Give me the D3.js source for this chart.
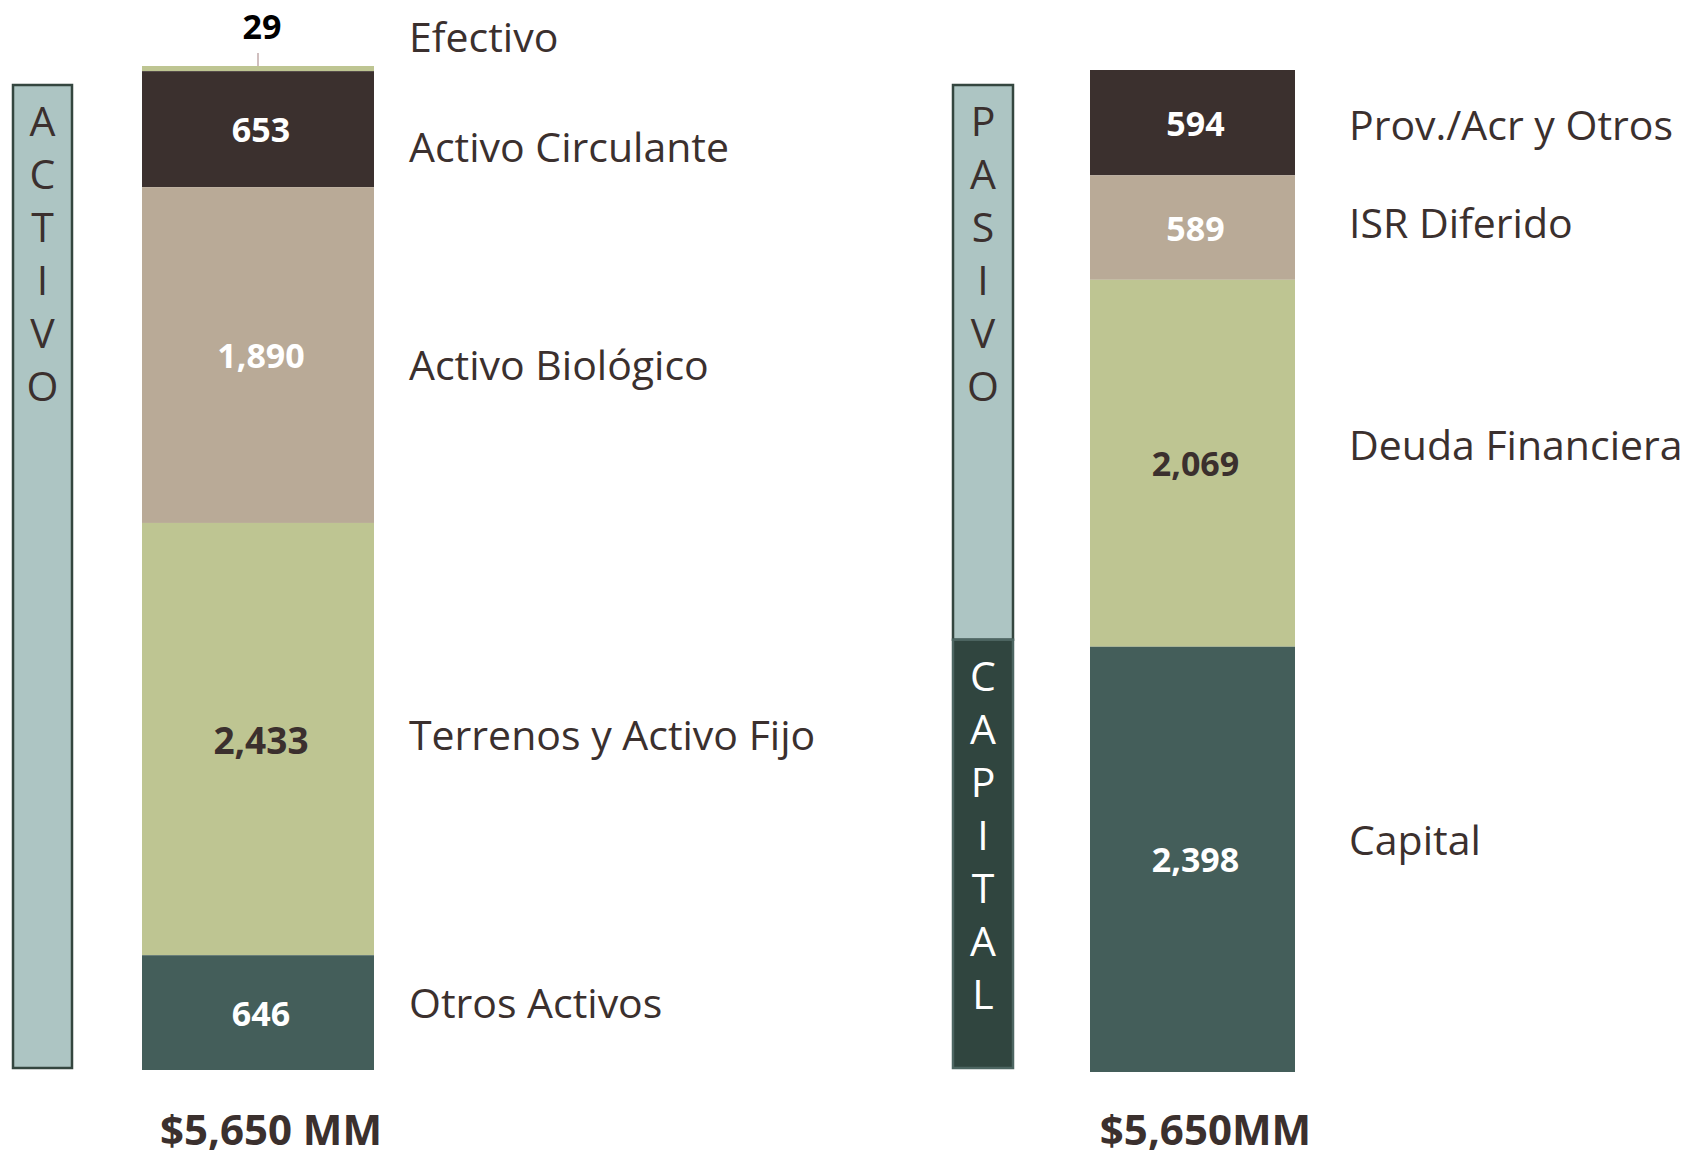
<!DOCTYPE html>
<html><head><meta charset="utf-8">
<script src="https://cdn.jsdelivr.net/npm/d3@7"></script>
<style>html,body{margin:0;padding:0;background:#fff;}svg{display:block;font-family:"Open Sans",sans-serif;}</style>
</head><body>
<svg id="chart" width="1696" height="1156"></svg>
<script>
// ---- data ----
const assetCategories = ["Efectivo", "Activo Circulante", "Activo Biológico", "Terrenos y Activo Fijo", "Otros Activos"];
const assetValues = [29, 653, 1890, 2433, 646];
const liabCategories = ["Prov./Acr y Otros", "ISR Diferido", "Deuda Financiera", "Capital"];
const liabValues = [594, 589, 2069, 2398];
const totalLabels = ["$5,650 MM", "$5,650MM"];
const sideWords = ["ACTIVO", "PASIVO", "CAPITAL"];

// ---- styles / layout ----
const assetColors = ["#bec592", "#3b302e", "#b9aa97", "#bec592", "#445e5a"];
const assetText = ["#000000", "#ffffff", "#ffffff", "#3b302e", "#ffffff"];
const assetValSize = [34, 34, 34, 37, 34];
const assetLabelDy = [0, 17, 9, -5, -11];
const liabColors = ["#3b302e", "#b9aa97", "#bec592", "#445e5a"];
const liabText = ["#ffffff", "#ffffff", "#3b302e", "#ffffff"];
const liabValSize = [34, 34, 34, 34];
const liabLabelDy = [1, -6, -19, -20];
const textDark = "#3b302e";

const svg = d3.select("#chart");
const fmt = d3.format(",");

function stack(vals) {
  let acc = 0;
  return vals.map(v => { const o = { y0: acc, y1: acc + v, v }; acc += v; return o; });
}

function drawBar(cfg) {
  const total = d3.sum(cfg.values);
  const y = d3.scaleLinear().domain([0, total]).range([cfg.bottom, cfg.top]);
  const st = stack(cfg.values.slice().reverse()).reverse(); // first category on top
  const g = svg.append("g");
  const data = cfg.values.map((v, i) => ({ v, cat: cfg.cats[i], y0: st[i].y0, y1: st[i].y1, i }));
  g.selectAll("rect.seg").data(data).join("rect")
    .attr("class", "seg")
    .attr("x", cfg.x0).attr("width", cfg.x1 - cfg.x0)
    .attr("y", d => y(d.y1)).attr("height", d => y(d.y0) - y(d.y1))
    .attr("fill", d => cfg.colors[d.i]);
  const cx = (cfg.x0 + cfg.x1) / 2;
  data.forEach(d => {
    const h = y(d.y0) - y(d.y1);
    const mid = (y(d.y0) + y(d.y1)) / 2;
    if (h < 20) {
      g.append("line").attr("x1", cx).attr("x2", cx)
        .attr("y1", y(d.y1) - 13).attr("y2", y(d.y1))
        .attr("stroke", "#c0aaaa").attr("stroke-width", 1.5);
      g.append("text").attr("x", cx + 4).attr("y", 39)
        .attr("text-anchor", "middle").attr("font-weight", 700).attr("font-size", 34)
        .attr("fill", cfg.textColors[d.i]).text(fmt(d.v));
      g.append("text").attr("x", cfg.x1 + cfg.labelGap).attr("y", 36)
        .attr("dominant-baseline", "central").attr("font-size", 41)
        .attr("fill", textDark).text(d.cat);
    } else {
      g.append("text").attr("x", cx + 3).attr("y", mid)
        .attr("dominant-baseline", "central").attr("text-anchor", "middle")
        .attr("font-weight", 700).attr("font-size", cfg.valSize[d.i])
        .attr("fill", cfg.textColors[d.i]).text(fmt(d.v));
      g.append("text").attr("x", cfg.x1 + cfg.labelGap).attr("y", mid + cfg.labelDy[d.i])
        .attr("dominant-baseline", "central").attr("font-size", 41)
        .attr("fill", textDark).text(d.cat);
    }
  });
  g.append("text").attr("x", cx + 13).attr("y", 1145)
    .attr("text-anchor", "middle").attr("font-weight", 700).attr("font-size", 42)
    .attr("fill", textDark).text(cfg.total);
  return y;
}

function sideBox(x0, x1, yTop, yBot, word, fill, stroke, color) {
  svg.append("rect").attr("x", x0).attr("y", yTop).attr("width", x1 - x0).attr("height", yBot - yTop)
    .attr("fill", fill).attr("stroke", stroke).attr("stroke-width", 2.5);
  const cx = (x0 + x1) / 2;
  word.split("").forEach((ch, i) => {
    svg.append("text").attr("x", cx).attr("y", yTop + 35 + i * 53)
      .attr("dominant-baseline", "central").attr("text-anchor", "middle")
      .attr("font-size", 41).attr("fill", color).text(ch);
  });
}

// left side
sideBox(13, 72, 85, 1068, sideWords[0], "#adc5c3", "#34463f", textDark);
drawBar({ values: assetValues, cats: assetCategories, colors: assetColors, textColors: assetText,
  valSize: assetValSize, labelDy: assetLabelDy,
  x0: 142, x1: 374, top: 66, bottom: 1070, labelGap: 35, total: totalLabels[0] });

// right side
const yR = drawBar({ values: liabValues, cats: liabCategories, colors: liabColors, textColors: liabText,
  valSize: liabValSize, labelDy: liabLabelDy,
  x0: 1090, x1: 1295, top: 70, bottom: 1072, labelGap: 54, total: totalLabels[1] });
const split = yR(liabValues[3]) - 7;
sideBox(953, 1013, 85, split, sideWords[1], "#adc5c3", "#34463f", textDark);
sideBox(953, 1013, split, 1068, sideWords[2], "#30453f", "#4d6662", "#ffffff");
</script>
</body></html>
